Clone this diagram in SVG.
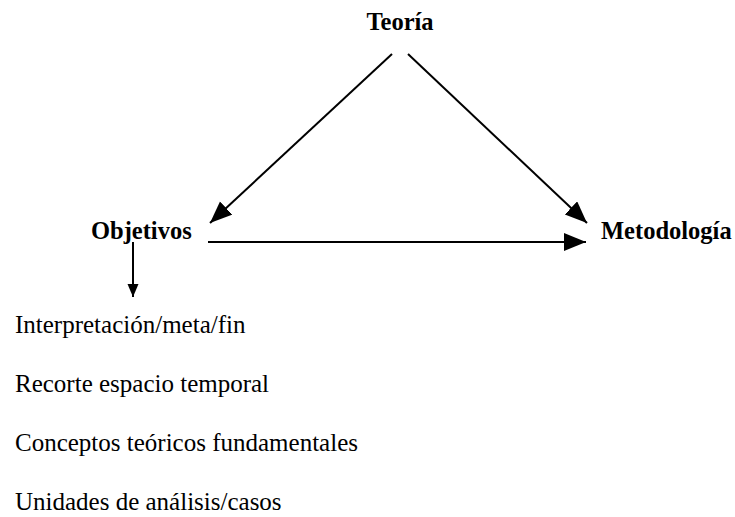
<svg xmlns="http://www.w3.org/2000/svg" width="735" height="517" viewBox="0 0 735 517">
<style>
text{font-family:'Liberation Serif','Times New Roman',serif;fill:#000}
.b{font-weight:bold;font-size:24.5px}
.r{font-size:25px}
.c{stroke:#000;stroke-width:2;fill:none}
</style>
<defs>
<marker id="big" markerUnits="userSpaceOnUse" markerWidth="24" markerHeight="20" refX="22" refY="9" orient="auto"><path d="M0,0 L22,9 L0,18 Z" fill="#000"/></marker>
<marker id="sm" markerUnits="userSpaceOnUse" markerWidth="14" markerHeight="12" refX="13" refY="5.5" orient="auto"><path d="M0,0 L13,5.5 L0,11 Z" fill="#000"/></marker>
</defs>
<rect width="735" height="517" fill="#fff"/>
<g id="connectors">
<line class="c" x1="392" y1="54" x2="210" y2="223" marker-end="url(#big)"/>
<line class="c" x1="408" y1="54" x2="587" y2="223" marker-end="url(#big)"/>
<line class="c" x1="208" y1="242" x2="586" y2="242" marker-end="url(#big)"/>
<line class="c" x1="133" y1="242" x2="133" y2="297" marker-end="url(#sm)"/>
</g>
<g id="teoria"><text class="b" x="400" y="30" text-anchor="middle">Teoría</text></g>
<g id="objetivos"><text class="b" x="91" y="239">Objetivos</text></g>
<g id="metodologia"><text class="b" x="601" y="239">Metodología</text></g>
<g id="lista">
<text class="r" x="15" y="333">Interpretación/meta/fin</text>
<text class="r" x="15" y="392">Recorte espacio temporal</text>
<text class="r" x="15" y="451">Conceptos teóricos fundamentales</text>
<text class="r" x="15" y="510">Unidades de análisis/casos</text>
</g>
</svg>
